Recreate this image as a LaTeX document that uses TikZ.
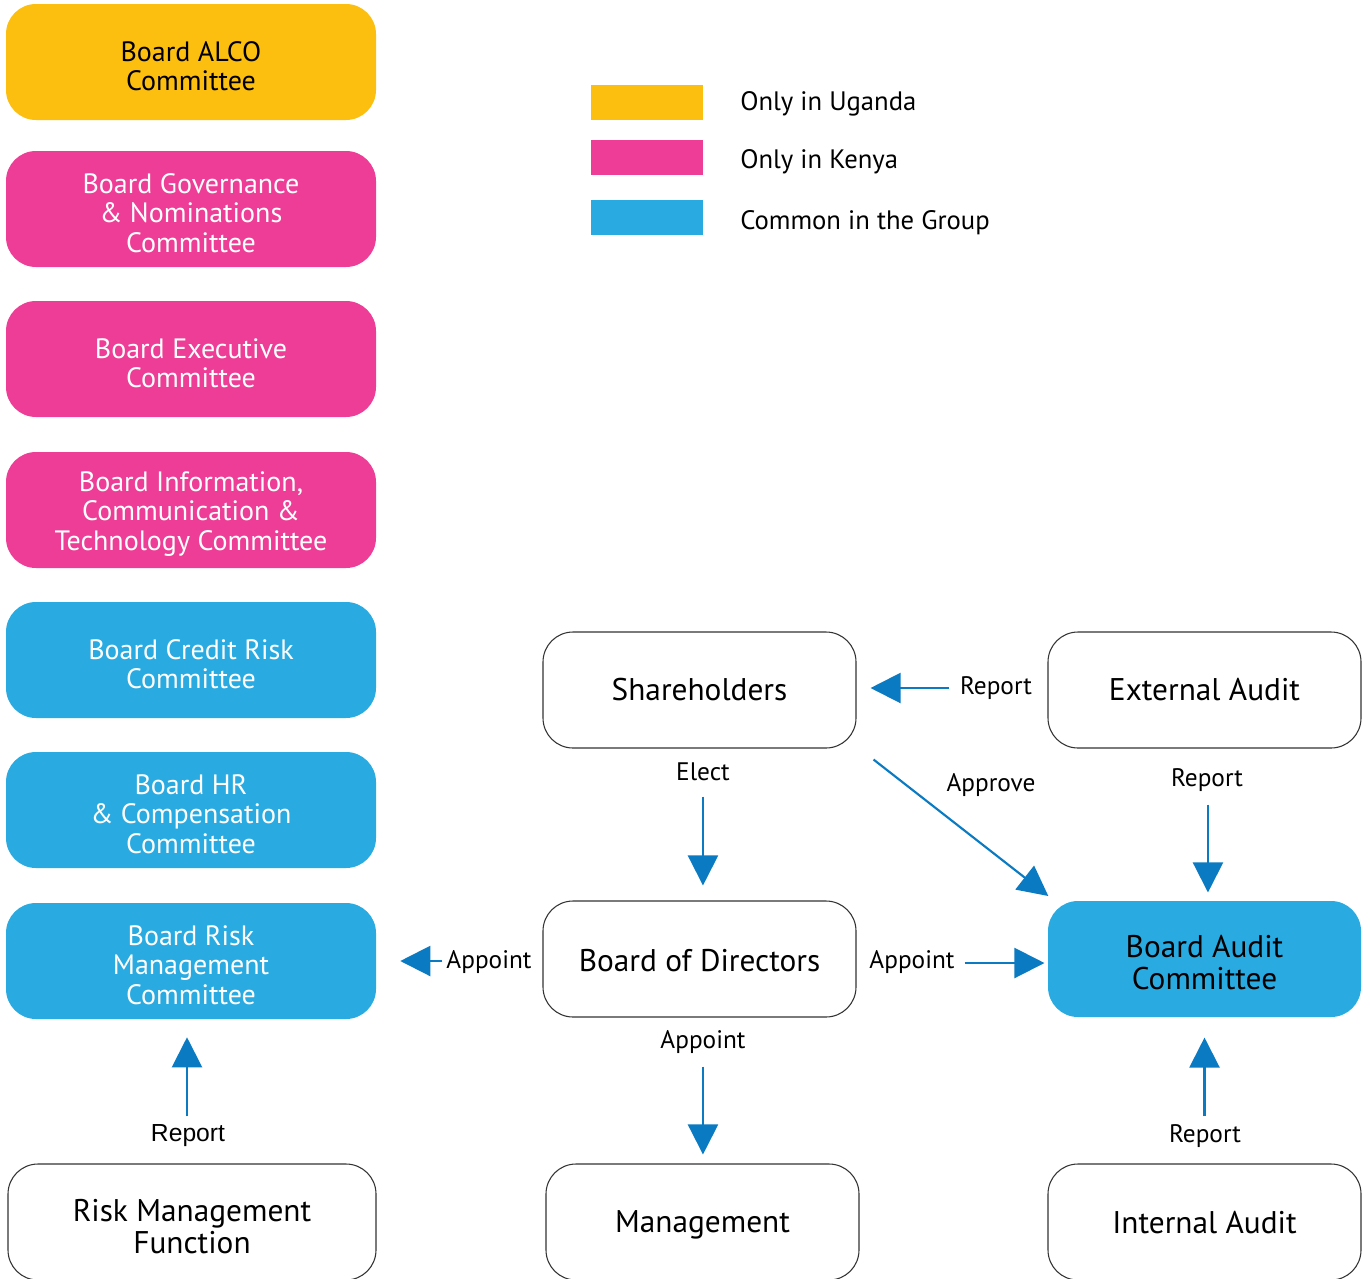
\documentclass[tikz,border=0pt]{standalone}
\usepackage{fontspec}
\setmainfont{PT Sans}
\newfontfamily\arialfont{Liberation Sans}
\usetikzlibrary{arrows.meta}
\definecolor{cyel}{HTML}{FCBF10}
\definecolor{cpink}{HTML}{EE3D96}
\definecolor{cblue}{HTML}{29ABE2}
\definecolor{carrow}{HTML}{0A7BC2}
\tikzset{
  boxshape/.style={rectangle, rounded corners=22.5pt, minimum height=87pt, inner sep=0pt},
  leftbox/.style={boxshape, minimum width=277.5pt},
  lefttxt/.style={inner sep=0pt, align=center, font=\fontsize{21}{22}\selectfont, yshift=-3pt},
  ktxt/.style={label={[lefttxt, text=black]center:#1}},
  wtxt/.style={label={[lefttxt, text=white]center:#1}},
  midtxt/.style={inner sep=0pt, align=center, font=\fontsize{23.5}{24}\selectfont},
  mtxt/.style 2 args={label={[midtxt, yshift=#1]center:#2}},
  yelbox/.style={leftbox, fill=cyel},
  pinkbox/.style={leftbox, fill=cpink},
  bluebox/.style={leftbox, fill=cblue},
  whitebox/.style={boxshape, minimum width=234.75pt, draw=black!80, line width=0.8pt, fill=white},
  wideWhite/.style={whitebox, minimum width=276pt},
  lbl/.style={inner sep=0pt, font=\fontsize{19}{20}\selectfont},
  legtxt/.style={inner sep=0pt, anchor=west, font=\fontsize{20}{22}\selectfont, yshift=-2.25pt},
  swatch/.style={rectangle, minimum width=84pt, minimum height=26.25pt, inner sep=0pt},
  arr/.style={draw=carrow, line width=1.6pt, -{Triangle[length=22.5pt, width=22.5pt]}},
}
\begin{document}
\begin{tikzpicture}[x=0.75pt, y=-0.75pt]
\useasboundingbox (0,0) rectangle (1370,1278);
\clip (0,0) rectangle (1370,1278);
% left column
\node[yelbox, ktxt={Board ALCO\\Committee}] (alco) at (191,62) {};
\node[pinkbox, wtxt={Board Governance\\\& Nominations\\Committee}] (gov) at (191,209) {};
\node[pinkbox, wtxt={Board Executive\\Committee}] (exe) at (191,359) {};
\node[pinkbox, wtxt={Board Information,\\Communication \&\\Technology Committee}] (ict) at (191,510) {};
\node[bluebox, wtxt={Board Credit Risk\\Committee}] (cr) at (191,660) {};
\node[bluebox, wtxt={Board HR\\\& Compensation\\Committee}] (hr) at (191,810) {};
\node[bluebox, wtxt={Board Risk\\Management\\Committee}] (rm) at (191,961) {};
\node[wideWhite, mtxt={-3.75pt}{Risk Management\\Function}] (rmf) at (192,1222) {};
% middle
\node[whitebox, mtxt={0pt}{Shareholders}] (sh) at (699.5,690) {};
\node[whitebox, mtxt={-1.5pt}{Board of Directors}] (bod) at (699.5,959) {};
\node[whitebox, mtxt={-2pt}{Management}] (mg) at (702.5,1222) {};
% right
\node[whitebox, mtxt={0pt}{External Audit}] (ea) at (1204.5,690) {};
\node[whitebox, draw=none, fill=cblue, label={[midtxt, yshift=-3pt]center:Board Audit\\Committee}] (bac) at (1204.5,959) {};
\node[whitebox, mtxt={-0.75pt}{Internal Audit}] (ia) at (1204.5,1222) {};
% legend
\node[swatch, fill=cyel] (s1) at (647,102.5) {};
\node[swatch, fill=cpink] (s2) at (647,157.5) {};
\node[swatch, fill=cblue] (s3) at (647,217.5) {};
\node[legtxt] (t1) at (740,101) {Only in Uganda};
\node[legtxt] (t2) at (740,159) {Only in Kenya};
\node[legtxt] (t3) at (740,220) {Common in the Group};
% labels
\node[lbl] (l1) at (996,688.5) {Report};
\node[lbl] (l2) at (703,772) {Elect};
\node[lbl] (l3) at (991,785) {Approve};
\node[lbl] (l4) at (1207,780) {Report};
\node[lbl] (l5) at (489,962) {Appoint};
\node[lbl] (l6) at (912,962) {Appoint};
\node[lbl] (l7) at (703,1042) {Appoint};
\node[inner sep=0pt, font=\arialfont\fontsize{18.5}{20}\selectfont] (l8) at (188,1136) {Report};
\node[lbl] (l9) at (1205,1136) {Report};
% arrows
\draw[arr, shorten <=73.5pt, shorten >=10.5pt] ([yshift=1.5pt]ea.west) -- ([yshift=1.5pt]sh.east);
\draw[arr, shorten <=36pt, shorten >=11.25pt] ([xshift=2.6pt]sh.south) -- ([xshift=2.6pt]bod.north);
\draw[arr, shorten >=3pt] ([xshift=12.75pt,yshift=-8.25pt]sh.south east) -- ([xshift=3pt,yshift=1.5pt]bac.north west);
\draw[arr, shorten <=42pt, shorten >=6pt] ([xshift=2.6pt]ea.south) -- ([xshift=2.6pt]bac.north);
\draw[arr, shorten <=75pt, shorten >=18pt] ([yshift=-1.5pt]bod.west) -- ([yshift=-1.5pt]bod.west -| rm.east);
\draw[arr, shorten <=81pt, shorten >=2.25pt] ([yshift=-3pt]bod.east) -- ([yshift=-3pt]bac.west);
\draw[arr, shorten <=36.75pt, shorten >=6.75pt] ([xshift=2.6pt]bod.south) -- ([xshift=2.6pt]bod.south |- mg.north);
\draw[arr, shorten <=35.25pt, shorten >=13.5pt] ([xshift=-3.75pt]rmf.north) -- ([xshift=-3.75pt]rmf.north |- rm.south);
\draw[arr, shorten <=35.25pt, shorten >=15pt] (ia.north) -- (bac.south);
\end{tikzpicture}
\end{document}
